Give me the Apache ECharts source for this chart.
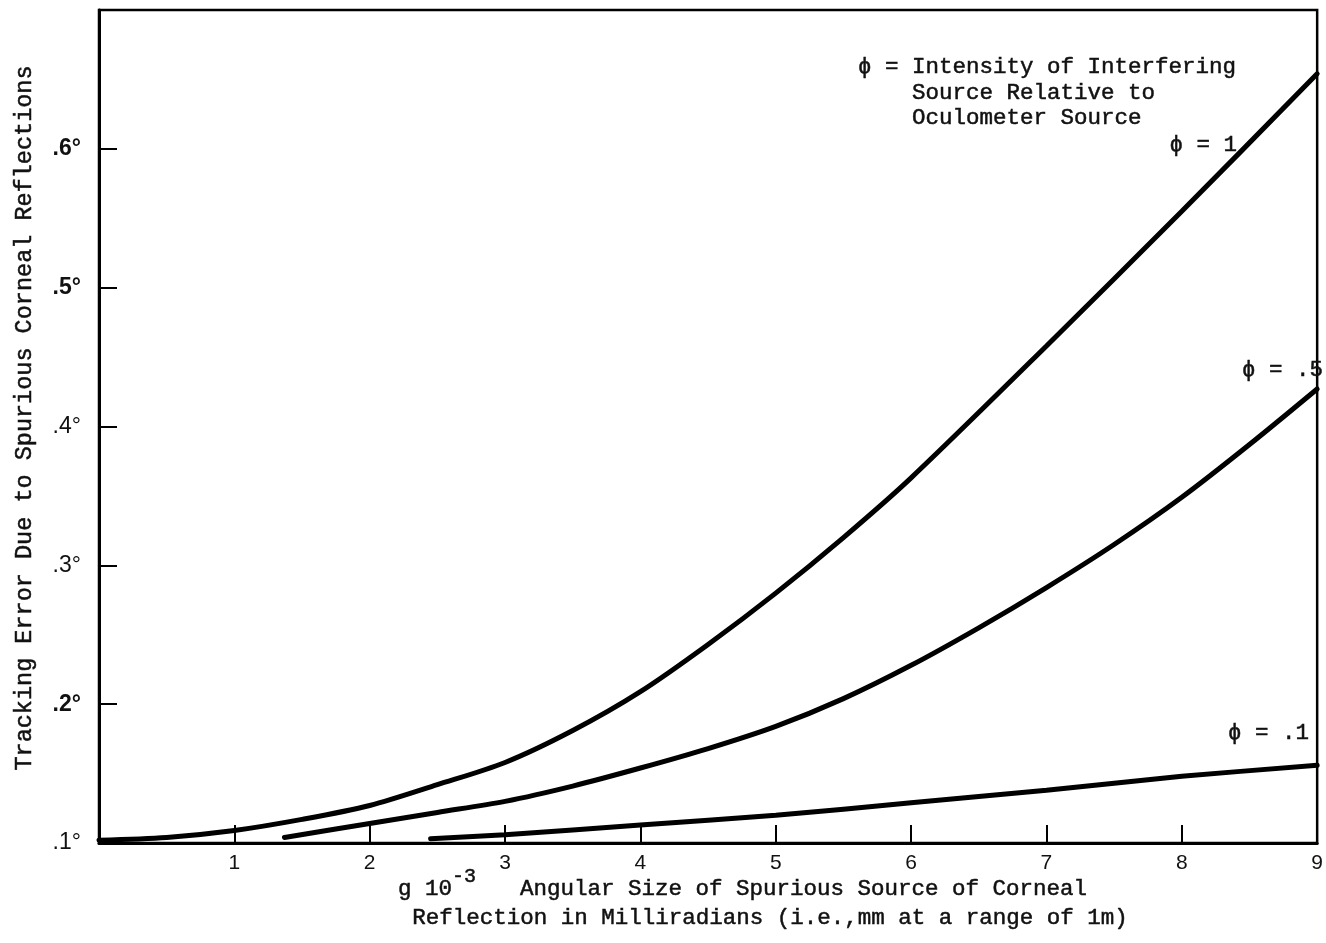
<!DOCTYPE html>
<html>
<head>
<meta charset="utf-8">
<script src="https://cdn.jsdelivr.net/npm/echarts@6/dist/echarts.min.js"></script>
<style>
  html, body { margin: 0; padding: 0; background: #fff; }
  #chart { width: 1326px; height: 943px; }
</style>
</head>
<body>
<div id="chart"></div>
<script>
// Angular size of spurious source (milliradians) and tracking error (degrees)
const phi1X = [0, 0.5, 1, 1.5, 2, 2.5, 3, 3.5, 4, 4.5, 5, 5.5, 6, 7, 8, 9];
const phi1Y = [0.102, 0.104, 0.109, 0.117, 0.127, 0.142, 0.158, 0.181, 0.209, 0.243, 0.280, 0.320, 0.363, 0.458, 0.555, 0.654];

const phiHalfX = [1.37, 2, 2.5, 3, 3.5, 4, 4.5, 5, 5.5, 6, 6.5, 7, 7.5, 8, 8.5, 9];
const phiHalfY = [0.104, 0.114, 0.122, 0.130, 0.141, 0.154, 0.168, 0.184, 0.204, 0.228, 0.255, 0.284, 0.315, 0.349, 0.387, 0.427];

const phiTenthX = [2.45, 3, 4, 5, 6, 7, 8, 9];
const phiTenthY = [0.103, 0.106, 0.113, 0.120, 0.129, 0.138, 0.148, 0.156];

const xTicks = [1, 2, 3, 4, 5, 6, 7, 8, 9];
const yTickLabels = { '0.1': '.1°', '0.2': '.2°', '0.3': '.3°', '0.4': '.4°', '0.5': '.5°', '0.6': '.6°' };
const boldYTicks = ['0.2', '0.5', '0.6'];

const seriesNames = ['\u03D5 = 1', '\u03D5 = .5', '\u03D5 = .1'];
const noteLines = [
  '\u03D5 = Intensity of Interfering',
  '    Source Relative to',
  '    Oculometer Source'
];
const yTitle = 'Tracking Error Due to Spurious Corneal Reflections';
const xTitleLine1a = 'g 10';
const xTitleSup = '-3';
const xTitleLine1b = 'Angular Size of Spurious Source of Corneal';
const xTitleLine2 = 'Reflection in Milliradians (i.e.,mm at a range of 1m)';

const MONO = '"Liberation Mono", "DejaVu Sans Mono", monospace';
const SANS = '"Liberation Sans", Arial, sans-serif';

function zipXY(xs, ys) { return xs.map((x, i) => [x, ys[i]]); }

const chart = echarts.init(document.getElementById('chart'), null, { renderer: 'canvas' });

const lineStyle = { color: '#000', width: 5, cap: 'round' };

// typewriter-style text, slightly stroked to give it weight
function monoText(text, x, y, opts) {
  return {
    type: 'text', x: x, y: y, silent: true,
    style: Object.assign({
      text: text, fill: '#111', stroke: '#111', lineWidth: 0.5,
      font: '22.5px ' + MONO,
      textAlign: 'left', textVerticalAlign: 'middle'
    }, opts || {})
  };
}

function curve(name, xs, ys) {
  return {
    name: name, type: 'line', data: zipXY(xs, ys),
    smooth: 0.3, showSymbol: false, lineStyle: lineStyle
  };
}

const option = {
  backgroundColor: '#fff',
  animation: false,
  grid: {
    left: 99, right: 4, top: 10, bottom: 100,
    show: true, borderColor: '#000', borderWidth: 2.5, backgroundColor: 'transparent'
  },
  xAxis: {
    type: 'value', min: 0, max: 9, interval: 1,
    axisLine: { show: true, onZero: false, lineStyle: { color: '#000', width: 3 } },
    axisTick: { show: true, inside: true, length: 18, lineStyle: { color: '#000', width: 2 } },
    splitLine: { show: false },
    axisLabel: {
      margin: 10, color: '#111', fontFamily: SANS, fontSize: 21,
      formatter: v => (xTicks.indexOf(v) >= 0 ? String(v) : '')
    }
  },
  yAxis: {
    type: 'value', min: 0.1, max: 0.7, interval: 0.1,
    axisLine: { show: true, onZero: false, lineStyle: { color: '#000', width: 3 } },
    axisTick: { show: true, inside: true, length: 18, lineStyle: { color: '#000', width: 2 } },
    splitLine: { show: false },
    axisLabel: {
      margin: 18, color: '#111', fontFamily: SANS, fontSize: 23,
      formatter: v => {
        const key = String(Math.round(v * 10) / 10);
        const t = yTickLabels[key];
        if (!t) return '';
        return boldYTicks.indexOf(key) >= 0 ? '{b|' + t + '}' : '{n|' + t + '}';
      },
      rich: {
        b: { fontFamily: SANS, fontSize: 23, fontWeight: 'bold', color: '#111' },
        n: { fontFamily: SANS, fontSize: 23, color: '#111' }
      }
    }
  },
  series: [
    curve(seriesNames[0], phi1X, phi1Y),
    curve(seriesNames[1], phiHalfX, phiHalfY),
    curve(seriesNames[2], phiTenthX, phiTenthY)
  ],
  graphic: [
    // vertical axis title
    {
      type: 'text', x: 25, y: 418, rotation: Math.PI / 2, silent: true,
      style: { text: yTitle, fill: '#111', stroke: '#111', lineWidth: 0.5, font: '23.5px ' + MONO, textAlign: 'center', textVerticalAlign: 'middle' }
    },
    // horizontal axis title
    monoText(xTitleLine1a, 398, 889),
    monoText(xTitleSup, 452, 877, { font: '20px ' + MONO }),
    monoText(xTitleLine1b, 520, 889),
    monoText(xTitleLine2, 770, 918, { textAlign: 'center' }),
    // explanatory note
    monoText(noteLines[0], 858, 67),
    monoText(noteLines[1], 858, 93),
    monoText(noteLines[2], 858, 118),
    // curve labels
    monoText(seriesNames[0], 1237, 145, { textAlign: 'right' }),
    monoText(seriesNames[1], 1323, 370, { textAlign: 'right' }),
    monoText(seriesNames[2], 1309, 733, { textAlign: 'right' })
  ]
};

chart.setOption(option);
</script>
</body>
</html>
